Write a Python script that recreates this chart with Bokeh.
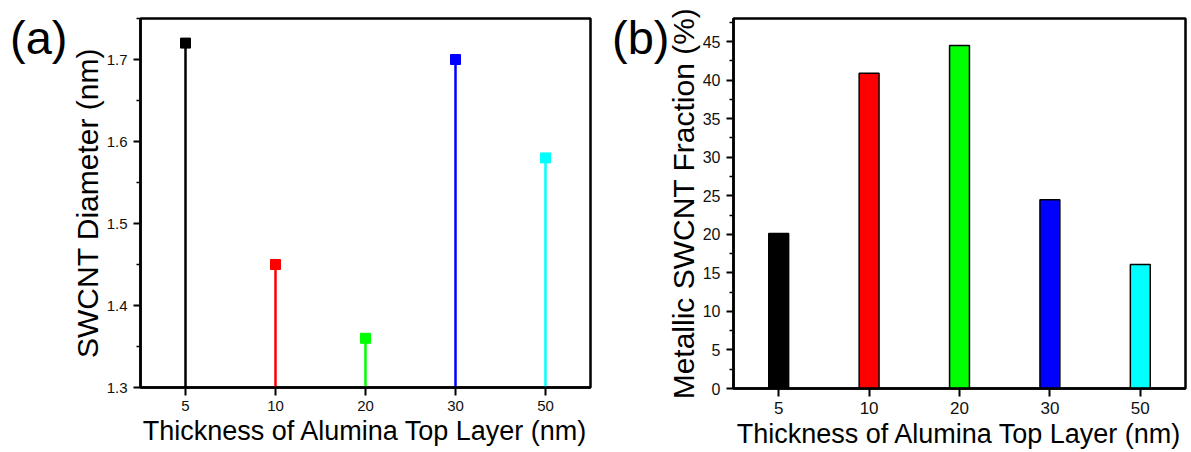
from bokeh.plotting import figure
from bokeh.layouts import row
from bokeh.models import FactorRange, Range1d, FixedTicker, ColumnDataSource, Div
from bokeh.embed import file_html
from bokeh.resources import INLINE

# ---- data ----
thickness = ["5", "10", "20", "30", "50"]
diameter = [1.72, 1.45, 1.36, 1.70, 1.58]
metallic_fraction = [20.1, 40.9, 44.5, 24.5, 16.1]
colors = ["#000000", "#FF0000", "#00FF00", "#0000FF", "#00FFFF"]
diam_ticks = [1.3, 1.4, 1.5, 1.6, 1.7]
diam_minor = [1.35, 1.45, 1.55, 1.65, 1.75]
frac_ticks = [0, 5, 10, 15, 20, 25, 30, 35, 40, 45]
frac_minor = [2.5, 7.5, 12.5, 17.5, 22.5, 27.5, 32.5, 37.5, 42.5, 47.5]
panel_labels = ["(a)", "(b)"]

FONT = "Liberation Sans"
DIAM_START, DIAM_END = 1.3, 1.75
FRAC_START, FRAC_END = 0, 48
H = 452
BORDER = 92
TAG_W_A = 140 - BORDER
TAG_W_B = 133 - BORDER


def style(p, tick_size, ylabel_size, xlabel_size):
    p.border_fill_alpha = 0
    p.outline_line_color = "black"
    p.outline_line_width = 2.5
    p.outline_line_alpha = 1.0
    p.xgrid.visible = False
    p.ygrid.visible = False
    for ax in (p.xaxis[0], p.yaxis[0]):
        ax.axis_line_width = 2.5
        ax.axis_line_color = "black"
        ax.major_tick_line_width = 2
        ax.minor_tick_line_width = 1.5
        ax.major_tick_in = 0
        ax.minor_tick_in = 0
        ax.major_label_text_font = FONT
        ax.major_label_text_font_size = tick_size
        ax.major_label_text_color = "#111111"
        ax.axis_label_text_font = FONT
        ax.axis_label_text_font_style = "normal"
        ax.axis_label_text_color = "black"
    p.xaxis.major_tick_out = 8
    p.xaxis.minor_tick_out = 0
    p.yaxis.major_tick_out = 7
    p.yaxis.minor_tick_out = 4
    p.xaxis.axis_label_text_font_size = xlabel_size
    p.yaxis.axis_label_text_font_size = ylabel_size
    p.xaxis.major_label_standoff = 5
    p.xaxis.axis_label_standoff = 2
    p.yaxis.major_label_standoff = 6
    p.yaxis.axis_label_standoff = 0


def tag(text, left, w):
    html = ('<div style="position:relative; left:%dpx; top:14px; width:0px; height:0px; '
            'overflow:visible; font-family:\'%s\'; font-size:47px; line-height:1; '
            'color:#000; white-space:nowrap;">%s</div>' % (left, FONT, text))
    return Div(text=html, width=w, height=H, margin=0,
               styles={"overflow": "visible", "z-index": "5"})


# ---- panel (a) ----
pa = figure(x_range=FactorRange(*thickness), y_range=Range1d(DIAM_START, DIAM_END),
            frame_width=450, frame_height=369,
            min_border_left=BORDER, min_border_right=10, min_border_top=18, min_border_bottom=65,
            output_backend="svg", toolbar_location=None,
            x_axis_label="Thickness of Alumina Top Layer (nm)",
            y_axis_label="SWCNT Diameter (nm)")
src_a = ColumnDataSource(dict(x=thickness, y=diameter, c=colors,
                              base=[DIAM_START] * len(thickness)))
pa.segment(x0="x", y0="base", x1="x", y1="y", line_color="c", line_width=2.5, source=src_a)
pa.scatter(x="x", y="y", marker="square", size=10, fill_color="c", line_color="c", source=src_a)
pa.yaxis.ticker = FixedTicker(ticks=diam_ticks, minor_ticks=diam_minor)
style(pa, "15px", "30px", "27px")

# ---- panel (b) ----
pb = figure(x_range=FactorRange(*thickness), y_range=Range1d(FRAC_START, FRAC_END),
            frame_width=452, frame_height=370,
            min_border_left=BORDER, min_border_right=6, min_border_top=16, min_border_bottom=66,
            output_backend="svg", toolbar_location=None,
            x_axis_label="Thickness of Alumina Top Layer (nm)",
            y_axis_label="Metallic SWCNT Fraction (%)")
src_b = ColumnDataSource(dict(x=thickness, top=metallic_fraction, c=colors))
pb.vbar(x="x", top="top", bottom=FRAC_START, width=0.22, fill_color="c",
        line_color="black", line_width=1.5, source=src_b)
pb.yaxis.ticker = FixedTicker(ticks=frac_ticks, minor_ticks=frac_minor)
style(pb, "16px", "30px", "27px")
pb.xaxis.major_label_text_font_size = "17px"

layout = row(tag(panel_labels[0], 10, TAG_W_A), pa, tag(panel_labels[1], 12, TAG_W_B), pb, spacing=0)
open("out.html", "w").write(file_html(layout, INLINE))
